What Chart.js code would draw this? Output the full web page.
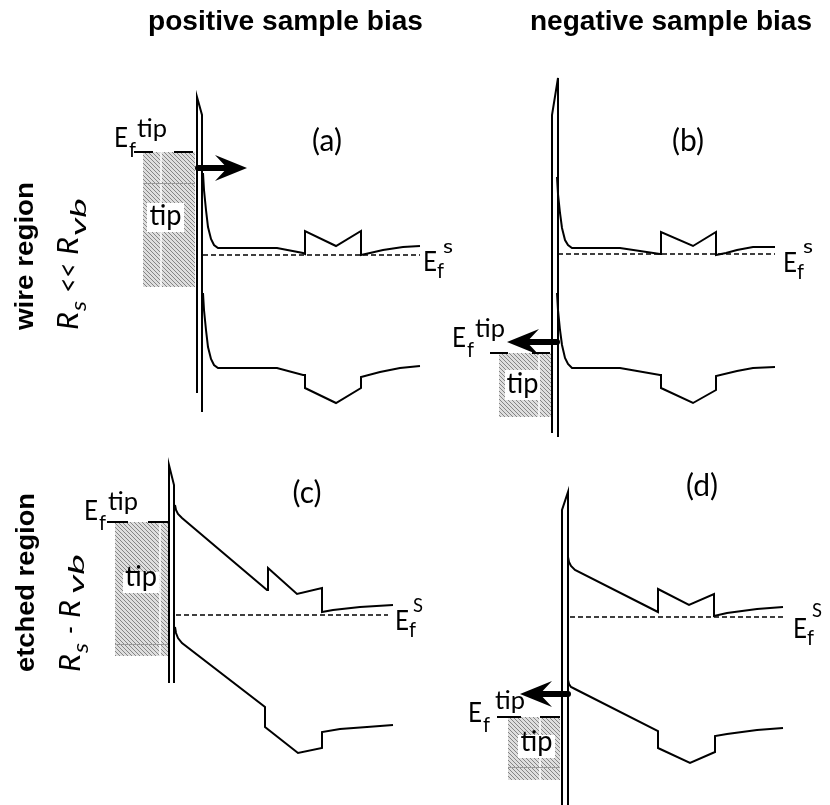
<!DOCTYPE html>
<html><head><meta charset="utf-8">
<script src="https://cdn.jsdelivr.net/npm/chart.js@4/dist/chart.umd.min.js"></script>
<style>html,body{margin:0;padding:0;background:#fff}</style>
</head><body>
<canvas id="c" width="830" height="805"></canvas>
<script>
// ---------- values (drawing units) ----------
const titles = ['positive sample bias', 'negative sample bias'];
const rowLabels = ['wire region', 'etched region'];
const panelLetters = ['(a)', '(b)', '(c)', '(d)'];

// conduction-band edges
const cbA = [[203,173],[204,190],[206,210],[208,227],[211,239],[214,245],[218,248],[277,248],[303,253],[305,254],[305,231],[336,246],[361,231],[361,255],[370,253],[383,250],[403,247],[420,246]];
const cbB = [[557,177],[558,194],[560,213],[562,228],[565,240],[568,245],[572,248],[620,248],[660,254],[661,254],[661,232],[693,246],[716,232],[716,255],[726,253],[737,250],[753,247],[775,247]];
const cbC = [[175,505],[176,510],[178,514],[182,518],[267,590],[268,590],[268,568],[297,594],[322,588],[322,612],[333,610],[360,607],[393,605]];
const cbD = [[568,557],[569,562],[571,566],[575,570],[658,612],[658,589],[689,605],[714,594],[714,616],[727,613],[757,609],[783,607]];
// valence-band edges
const vbA = [[203,293],[204,310],[206,330],[208,347],[211,359],[214,365],[218,368],[277,368],[303,375],[305,375],[305,388],[336,403],[361,388],[361,377],[380,372],[400,368],[420,366]];
const vbB = [[557,293],[558,310],[560,330],[562,345],[565,358],[568,364],[572,368],[620,368],[660,375],[661,375],[661,388],[693,403],[716,390],[716,376],[737,371],[753,368],[775,367]];
const vbC = [[175,627],[176,633],[178,638],[182,643],[265,707],[265,727],[298,753],[322,748],[322,732],[340,729],[367,727],[393,725]];
const vbD = [[568,680],[569,684],[571,687],[575,689],[658,731],[658,748],[690,763],[715,752],[715,736],[727,734],[757,730],[783,728]];
// sample Fermi levels (dashed)
const efsA = [[203,255],[420,255]];
const efsB = [[558,254],[775,254]];
const efsC = [[176,615],[388,615]];
const efsD = [[570,617],[785,617]];
// vacuum barriers
const barA = [[197,393],[197,97],[202,115],[202,412]];
const barB = [[552,433],[552,115],[558,78],[558,437]];
const barC = [[169,683],[169,465],[174,485],[174,683]];
const barD = [[562,805],[562,510],[568,492],[568,805]];
// tip Fermi level segments
const efTipSegs = [
  [[134,152],[153,152]], [[174,152],[193,152]],
  [[490,353],[508,353]], [[532,353],[550,353]],
  [[107,522],[128,522]], [[148,522],[168,522]],
  [[497,717],[521,717]], [[540,717],[560,717]]
];
// tip blocks: [x0,y0,x1,y1], white divider x, grey line y, label box
const tipBoxes = [143,152,195,287, 499,353,553,417, 115,522,168,656, 508,717,560,780];
const tipDividers = [161, 539, 160, 540];
const tipLines = [183, null, 644, 767];
const tipLabels = [147,203,184,232, 505,370,540,400, 123,572,159,593, 518,735,555,758];
// tunnelling arrows: start x, end x, y
const arrowsX0 = [198, 557, 568];
const arrowsX1 = [247, 507, 520];
const arrowsY  = [168, 342, 694];
// label anchors
const letterX = [327, 688, 307, 702];
const letterY = [141, 141, 493, 486];
const efTipE = [[114,147],[452,347],[84,520],[468,722]];
const efTipT = [[137,137],[475,337],[108,510],[495,709]];
const efsE = [[423,271],[783,272],[395,630],[793,638]];
const efsS = [[443,253],[803,253],[413,612],[812,617]];

// ---------- chart ----------
const toXY = a => a.map(p => ({x: p[0], y: p[1]}));
function lineDS(arr, w, dash) {
  return {data: toXY(arr), showLine: true, borderColor: '#000', borderWidth: w,
    borderDash: dash || [], pointRadius: 0, fill: false, tension: 0,
    borderJoinStyle: 'miter', borderCapStyle: 'butt'};
}
const datasets = [];
[cbA, cbB, cbC, cbD, vbA, vbB, vbC, vbD].forEach(a => datasets.push(lineDS(a, 2)));
[barA, barB, barC, barD].forEach(a => datasets.push(lineDS(a, 2)));
[efsA, efsB, efsC, efsD].forEach(a => datasets.push(lineDS(a, 1.5, [5, 3])));
efTipSegs.forEach(a => datasets.push(lineDS(a, 2)));

const FONT = 'Lato, "DejaVu Sans", sans-serif';
const BOLD = '"Liberation Sans", Arial, sans-serif';

function hatch(ctx) {
  const c = document.createElement('canvas');
  c.width = 4; c.height = 4;
  const g = c.getContext('2d');
  g.fillStyle = '#dedede'; g.fillRect(0, 0, 4, 4);
  g.strokeStyle = '#858585'; g.lineWidth = 1;
  g.beginPath();
  g.moveTo(0, 0); g.lineTo(4, 4);
  g.moveTo(-2, 2); g.lineTo(2, 6);
  g.moveTo(2, -2); g.lineTo(6, 2);
  g.stroke();
  return ctx.createPattern(c, 'repeat');
}
function fitText(ctx, s, x, y, font, w) {
  ctx.font = font;
  const m = ctx.measureText(s).width;
  ctx.save(); ctx.translate(x, y);
  if (w) ctx.scale(w / m, 1);
  ctx.textAlign = 'left'; ctx.textBaseline = 'alphabetic';
  ctx.fillText(s, 0, 0);
  ctx.restore();
}

const diagram = {
  id: 'diagram',
  beforeDatasetsDraw(chart) {
    const ctx = chart.ctx, X = v => chart.scales.x.getPixelForValue(v), Y = v => chart.scales.y.getPixelForValue(v);
    const pat = hatch(ctx);
    ctx.save();
    for (let i = 0; i < 4; i++) {
      const x0 = X(tipBoxes[i*4]), y0 = Y(tipBoxes[i*4+1]), x1 = X(tipBoxes[i*4+2]), y1 = Y(tipBoxes[i*4+3]);
      ctx.fillStyle = pat; ctx.fillRect(x0, y0, x1 - x0, y1 - y0);
      ctx.strokeStyle = '#fff'; ctx.lineWidth = 1.5;
      ctx.beginPath(); ctx.moveTo(X(tipDividers[i]), y0); ctx.lineTo(X(tipDividers[i]), y1); ctx.stroke();
      if (tipLines[i] !== null) {
        ctx.strokeStyle = '#9a9a9a'; ctx.lineWidth = 1;
        ctx.beginPath(); ctx.moveTo(x0, Y(tipLines[i]) + 0.5); ctx.lineTo(x1, Y(tipLines[i]) + 0.5); ctx.stroke();
      }
      const lx0 = X(tipLabels[i*4]), ly0 = Y(tipLabels[i*4+1]), lx1 = X(tipLabels[i*4+2]), ly1 = Y(tipLabels[i*4+3]);
      ctx.fillStyle = '#fff'; ctx.fillRect(lx0, ly0, lx1 - lx0, ly1 - ly0);
      ctx.fillStyle = '#000';
      fitText(ctx, 'tip', (lx0 + lx1) / 2 - 16, ly1 - 7, '28px ' + FONT, 32);
    }
    ctx.restore();
  },
  afterDatasetsDraw(chart) {
    const ctx = chart.ctx, X = v => chart.scales.x.getPixelForValue(v), Y = v => chart.scales.y.getPixelForValue(v);
    ctx.save();
    ctx.fillStyle = '#000'; ctx.strokeStyle = '#000';
    // arrows
    for (let i = 0; i < 3; i++) {
      const x0 = X(arrowsX0[i]), x1 = X(arrowsX1[i]), y = Y(arrowsY[i]);
      const d = Math.sign(x1 - x0), L = 32, hw = 13;
      ctx.lineWidth = 6; ctx.lineCap = 'round';
      ctx.beginPath(); ctx.moveTo(x0, y); ctx.lineTo(x1 - d * L * 0.6, y); ctx.stroke();
      ctx.beginPath();
      ctx.moveTo(x1, y);
      ctx.lineTo(x1 - d * L, y - hw);
      ctx.lineTo(x1 - d * L * 0.62, y);
      ctx.lineTo(x1 - d * L, y + hw);
      ctx.closePath(); ctx.fill();
    }
    // titles
    fitText(ctx, titles[0], X(148), Y(30), 'bold 28px ' + BOLD, 275);
    fitText(ctx, titles[1], X(530), Y(30), 'bold 28px ' + BOLD, 282);
    // panel letters
    ctx.textAlign = 'center'; ctx.textBaseline = 'middle';
    ctx.font = '30px ' + FONT;
    for (let i = 0; i < 4; i++) ctx.fillText(panelLetters[i], X(letterX[i]), Y(letterY[i]));
    // E_f^tip labels
    for (let i = 0; i < 4; i++) {
      const ex = X(efTipE[i][0]), ey = Y(efTipE[i][1]);
      fitText(ctx, 'E', ex, ey, '26px ' + FONT, 14);
      fitText(ctx, 'f', ex + 15, ey + 10, '22px ' + FONT, 7);
      fitText(ctx, 'tip', X(efTipT[i][0]), Y(efTipT[i][1]), '25px ' + FONT, 30);
    }
    // E_f^s labels
    for (let i = 0; i < 4; i++) {
      const ex = X(efsE[i][0]), ey = Y(efsE[i][1]);
      fitText(ctx, 'E', ex, ey, '26px ' + FONT, 14);
      fitText(ctx, 'f', ex + 14, ey + 7, '22px ' + FONT, 7);
      fitText(ctx, i >= 2 ? 'S' : 's', X(efsS[i][0]), Y(efsS[i][1]), '20px ' + FONT, 10);
    }
    // row labels (rotated)
    const rot = (cx, cy, fn) => { ctx.save(); ctx.translate(cx, cy); ctx.rotate(-Math.PI / 2); fn(); ctx.restore(); };
    rot(X(33), Y(330), () => fitText(ctx, rowLabels[0], 0, 0, 'bold 26px ' + BOLD, 148));
    rot(X(34), Y(672), () => fitText(ctx, rowLabels[1], 0, 0, 'bold 26px ' + BOLD, 179));
    const IT = 'italic 28px ' + FONT, ITS = 'italic 22px ' + FONT;
    rot(X(78), Y(330), () => {
      fitText(ctx, 'R', 0, 0, IT, 18);
      fitText(ctx, 's', 19, 8, ITS, 10);
      fitText(ctx, '<<', 37, 0, IT, 30);
      fitText(ctx, 'R', 75, 0, IT, 18);
      fitText(ctx, 'vb', 94, 8, ITS, 38);
    });
    rot(X(80), Y(672), () => {
      fitText(ctx, 'R', 0, 0, IT, 18);
      fitText(ctx, 's', 19, 8, ITS, 10);
      fitText(ctx, '-', 38, 0, IT, 8);
      fitText(ctx, 'R', 54, 0, IT, 18);
      fitText(ctx, 'vb', 78, 4, ITS, 40);
    });
    ctx.restore();
  }
};

new Chart(document.getElementById('c'), {
  type: 'scatter',
  data: {datasets},
  options: {
    responsive: false, animation: false, devicePixelRatio: 1,
    layout: {padding: 0},
    scales: {
      x: {type: 'linear', min: 0, max: 830, display: false},
      y: {type: 'linear', min: 0, max: 805, reverse: true, display: false}
    },
    plugins: {legend: {display: false}, tooltip: {enabled: false}},
    events: []
  },
  plugins: [diagram]
});
</script>
</body></html>
